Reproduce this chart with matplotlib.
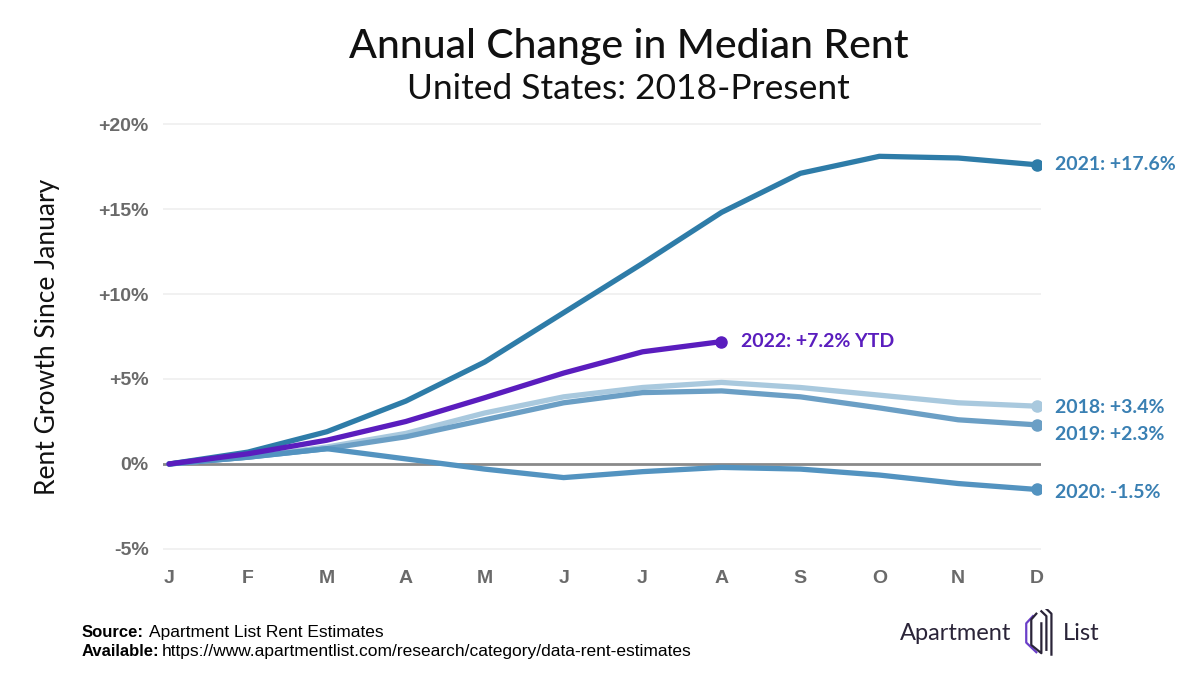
import numpy as np
import matplotlib.pyplot as plt

plt.rcParams["font.family"] = ["Lato", "DejaVu Sans"]

# month ticks
months = ["J", "F", "M", "A", "M", "J", "J", "A", "S", "O", "N", "D"]

# rent growth since january, %
rent_2018 = [0, 0.4, 1.0, 1.8, 3.0, 3.95, 4.5, 4.8, 4.5, 4.05, 3.6, 3.4]
rent_2019 = [0, 0.4, 0.9, 1.6, 2.6, 3.6, 4.2, 4.3, 3.95, 3.3, 2.6, 2.3]
rent_2020 = [0, 0.4, 0.9, 0.3, -0.3, -0.8, -0.45, -0.2, -0.3, -0.65, -1.15, -1.5]
rent_2021 = [0, 0.7, 1.9, 3.7, 6.0, 8.9, 11.8, 14.8, 17.1, 18.1, 18.0, 17.6]
rent_2022 = [0, 0.6, 1.4, 2.5, 3.9, 5.35, 6.6, 7.2]

yticks = [-5, 0, 5, 10, 15, 20]
ytick_labels = ["-5%", "0%", "+5%", "+10%", "+15%", "+20%"]

# colors
c2018 = "#A9C9DE"
c2019 = "#6B9FC5"
c2020 = "#5393C0"
c2021 = "#2E7CA8"
c2022 = "#5A1DBE"
label_blue = "#3A80B3"
tick_grey = "#6A6A6A"
logo_dark = "#2A2438"

fig = plt.figure(figsize=(12, 6.88), dpi=100)
ax = fig.add_axes([0.1356, 0.1897, 0.732, 0.6424])

x = np.arange(12)

# grid and zero line
for yt in yticks:
    if yt != 0:
        ax.axhline(yt, color="#EFEFEF", lw=1.2, zorder=0)
ax.axhline(0, color="#8A8A8A", lw=2, zorder=1)

series = [
    (rent_2018, c2018, "2018: +3.4%", -1),
    (rent_2019, c2019, "2019: +2.3%", -7),
    (rent_2020, c2020, "2020: -1.5%", -2),
    (rent_2021, c2021, "2021: +17.6%", 0),
]
for vals, col, lab, dy in series:
    ax.plot(x, vals, color=col, lw=3.8, solid_joinstyle="round", solid_capstyle="round", zorder=3)
    ax.plot(x[-1], vals[-1], "o", color=col, ms=8, zorder=4)
    # end label
    ax.annotate(lab, (11, vals[-1]), xytext=(13, dy), textcoords="offset points",
                va="center", ha="left", fontsize=14, fontweight="bold", color=label_blue,
                annotation_clip=False)

x22 = np.arange(len(rent_2022))
ax.plot(x22, rent_2022, color=c2022, lw=3.8, solid_joinstyle="round", solid_capstyle="round", zorder=5)
ax.plot(x22[-1], rent_2022[-1], "o", color=c2022, ms=8, zorder=6)
ax.annotate("2022: +7.2% YTD", (7, rent_2022[-1]), xytext=(14, 0), textcoords="offset points",
            va="center", ha="left", fontsize=14, fontweight="bold", color=c2022)

# axes styling
ax.set_xlim(-0.08, 11.05)
ax.set_ylim(-5.5, 20.5)
ax.set_xticks(x)
ax.set_xticklabels(months, fontsize=14, fontweight="bold", color=tick_grey, family="Liberation Sans")
ax.set_yticks(yticks)
ax.set_yticklabels(ytick_labels, fontsize=14, fontweight="bold", color=tick_grey, family="Liberation Sans")
ax.tick_params(axis="x", length=0, pad=9)
ax.tick_params(axis="y", length=0, pad=10)
for s in ax.spines.values():
    s.set_visible(False)

ax.set_ylabel("Rent Growth Since January", fontsize=19, color="#111111")
ax.yaxis.set_label_coords(-0.117, 0.5)

# titles
fig.text(0.524, 0.933, "Annual Change in Median Rent", ha="center", va="center", fontsize=29.5,
         fontweight="medium", color="#111111")
fig.text(0.524, 0.871, "United States: 2018-Present", ha="center", va="center", fontsize=25.5, color="#111111")

# footer
fig.text(0.068, 0.081, "Source:", fontsize=12, fontweight="bold", family="Liberation Sans", va="center")
fig.text(0.124, 0.081, "Apartment List Rent Estimates", fontsize=12.5, family="Liberation Sans", va="center")
fig.text(0.068, 0.053, "Available:", fontsize=12, fontweight="bold", family="Liberation Sans", va="center")
fig.text(0.135, 0.053, "https://www.apartmentlist.com/research/category/data-rent-estimates", fontsize=12.5,
         family="Liberation Sans", va="center")

# logo
fig.text(0.750, 0.079, "Apartment", fontsize=17, color=logo_dark, va="center")
fig.text(0.886, 0.079, "List", fontsize=17, color=logo_dark, va="center")
logo = fig.add_axes([0.851, 0.045, 0.028, 0.07])
logo.set_xlim(0, 1)
logo.set_ylim(0, 1)
logo.axis("off")
logo.plot([0.35, 0.15, 0.15, 0.45], [0.85, 0.7, 0.3, 0.1], color="#6A3FC8", lw=1.6)
logo.plot([0.45, 0.3, 0.3, 0.6, 0.6], [0.9, 0.78, 0.25, 0.08, 0.7], color=logo_dark, lw=1.6)
logo.plot([0.6, 0.75, 0.75], [0.95, 0.85, 0.15], color=logo_dark, lw=1.6)
logo.plot([0.75, 0.9, 0.9], [1.0, 0.9, 0.05], color=logo_dark, lw=1.6)

fig.savefig("out.png", dpi=100)
